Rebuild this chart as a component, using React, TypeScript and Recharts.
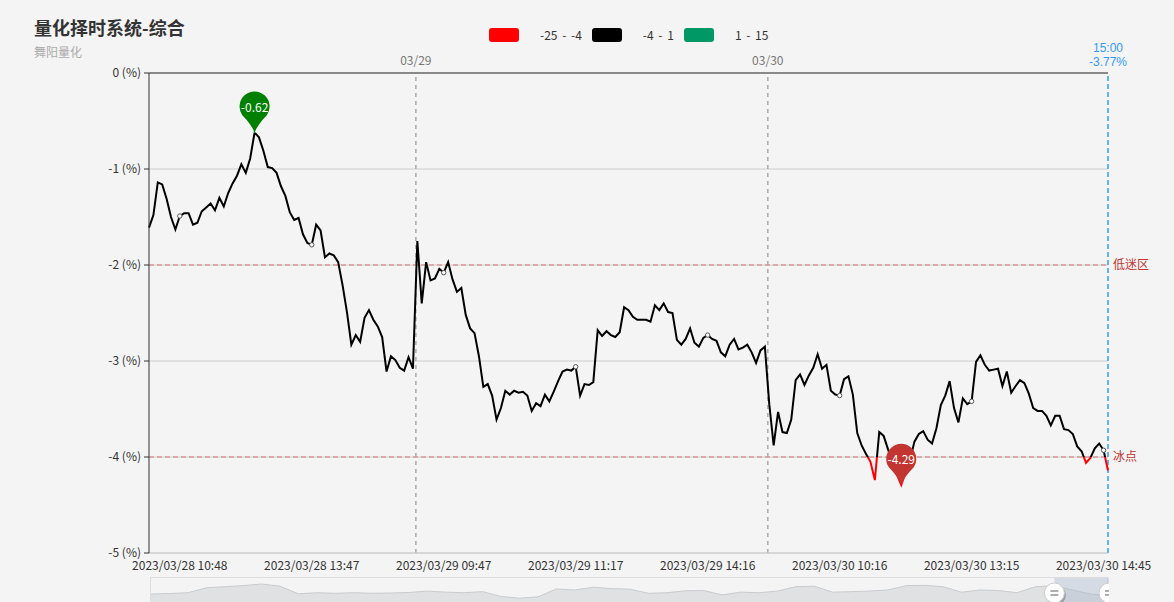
import {
  LineChart, Line, XAxis, YAxis, CartesianGrid, ReferenceLine, ReferenceDot,
  AreaChart, Area, ReferenceArea,
} from 'recharts'

// 综合择时值 (%), one sample every 3 trading minutes, 03/28 10:27 -> 03/30 15:00
const values = [
  -1.61, -1.48, -1.14, -1.16, -1.31, -1.50, -1.63, -1.49, -1.46, -1.46,
  -1.58, -1.56, -1.44, -1.40, -1.36, -1.43, -1.30, -1.39, -1.25, -1.15,
  -1.07, -0.95, -1.04, -0.89, -0.62, -0.67, -0.81, -0.98, -0.99, -1.04,
  -1.18, -1.28, -1.45, -1.53, -1.51, -1.68, -1.77, -1.79, -1.58, -1.64,
  -1.92, -1.88, -1.90, -1.97, -2.21, -2.49, -2.83, -2.73, -2.80, -2.55,
  -2.47, -2.57, -2.64, -2.75, -3.11, -2.95, -2.99, -3.07, -3.10, -2.96,
  -3.08, -1.75, -2.40, -1.97, -2.16, -2.14, -2.04, -2.08, -1.97, -2.15,
  -2.28, -2.24, -2.52, -2.66, -2.71, -2.95, -3.27, -3.24, -3.36, -3.61,
  -3.49, -3.31, -3.35, -3.31, -3.33, -3.32, -3.36, -3.52, -3.44, -3.47,
  -3.35, -3.42, -3.32, -3.21, -3.11, -3.09, -3.10, -3.06, -3.36, -3.24,
  -3.25, -3.22, -2.68, -2.74, -2.69, -2.73, -2.75, -2.70, -2.44, -2.47,
  -2.54, -2.57, -2.57, -2.57, -2.59, -2.42, -2.47, -2.40, -2.49, -2.50,
  -2.78, -2.83, -2.77, -2.66, -2.81, -2.85, -2.76, -2.73, -2.77, -2.79,
  -2.91, -2.95, -2.83, -2.77, -2.88, -2.86, -2.83, -2.91, -3.02, -2.89,
  -2.85, -3.45, -3.88, -3.53, -3.74, -3.75, -3.61, -3.20, -3.14, -3.25,
  -3.15, -3.07, -2.93, -3.08, -3.04, -3.31, -3.35, -3.36, -3.19, -3.16,
  -3.35, -3.75, -3.88, -3.97, -4.05, -4.24, -3.74, -3.78, -3.92, -4.05,
  -4.18, -4.29, -4.16, -4.03, -3.84, -3.76, -3.73, -3.82, -3.86, -3.70,
  -3.46, -3.36, -3.21, -3.49, -3.64, -3.39, -3.45, -3.42, -3.01, -2.94,
  -3.04, -3.10, -3.09, -3.08, -3.26, -3.11, -3.33, -3.26, -3.20, -3.23,
  -3.34, -3.49, -3.52, -3.52, -3.57, -3.67, -3.57, -3.57, -3.71, -3.72,
  -3.76, -3.89, -3.94, -4.06, -4.01, -3.91, -3.86, -3.93, -4.14,
]
const STEP = 3

const axisTicks = [21, 111, 201, 291, 381, 471, 561, 651]
const axisLabels = [
  '2023/03/28 10:48', '2023/03/28 13:47', '2023/03/29 09:47', '2023/03/29 11:17',
  '2023/03/29 14:16', '2023/03/30 10:16', '2023/03/30 13:15', '2023/03/30 14:45',
]
const dayBreaks = [182, 422]
const dayLabels = ['03/29', '03/30']
const topTicks = [66, 156, 246, 336, 426, 516, 606]
const yTicks = [0, -1, -2, -3, -4, -5]

const pieces = [
  { min: -25, max: -4, color: '#ff0000' },
  { min: -4, max: 1, color: '#000000' },
  { min: 1, max: 15, color: '#009966' },
]
const markLines = [
  { y: -2, label: '低迷区' },
  { y: -4, label: '冰点' },
]
const lastTime = '15:00'
const lastPct = -3.77

// dataZoom shadow (relative levels) and window in percent
const miniValues = [
  25, 27, 30, 48, 52, 56, 62, 54, 26, 30, 28, 30, 28, 29, 31, 36, 32, 30, 34, 16,
  10, 15, 44, 40, 50, 45, 43, 28, 30, 37, 38, 22, 32, 30, 36, 52, 54, 32, 34, 36,
  40, 56, 57, 52, 32, 40, 38, 30, 52, 56, 40, 25, 20,
]
const zoomStart = 94.3
const zoomEnd = 100

const data = values.map((v, k) => ({ i: k * STEP, v }))
const LAST = (values.length - 1) * STEP
const maxPt = data.reduce((a, b) => (b.v > a.v ? b : a))
const minPt = data.reduce((a, b) => (b.v < a.v ? b : a))
const miniData = miniValues.map((v, k) => ({ k, v }))

const off = (t: number) => Math.min(1, Math.max(0, (maxPt.v - t) / (maxPt.v - minPt.v)))

const FONT = "'Noto Sans CJK SC', 'Noto Sans', sans-serif"

function Pin({ cx, cy, color, text }: any) {
  const r = 15
  const d = 26
  const oy = cy - d
  const a = Math.acos(r / d)
  const tx = r * Math.sin(a)
  const ty = oy + r * Math.cos(a)
  const path = `M ${cx} ${cy} Q ${cx - 3} ${cy - 8} ${cx - tx} ${ty} A ${r} ${r} 0 1 1 ${cx + tx} ${ty} Q ${cx + 3} ${cy - 8} ${cx} ${cy} Z`
  return (
    <g>
      <path d={path} fill={color} />
      <text x={cx} y={oy} textAnchor="middle" dominantBaseline="central" fill="#fff" fontSize={12}>
        {text}
      </text>
    </g>
  )
}

function Handle({ x, y }: { x: number; y: number }) {
  return (
    <g>
      <circle cx={x + 1.5} cy={y + 2} r={10} fill="rgba(0,0,0,0.25)" />
      <circle cx={x} cy={y} r={10} fill="#fff" stroke="#ccc" />
      <line x1={x - 4} x2={x + 4} y1={y - 2} y2={y - 2} stroke="#777" strokeWidth={1.2} />
      <line x1={x - 4} x2={x + 4} y1={y + 2} y2={y + 2} stroke="#777" strokeWidth={1.2} />
    </g>
  )
}

export default function App() {
  const labelAt = new Map(axisTicks.map((t, n) => [t, axisLabels[n]]))
  const dotAt = new Set(axisTicks)
  const miniLast = miniValues.length - 1

  return (
    <div style={{ position: 'absolute', left: 0, top: 0, width: 1174, height: 602, overflow: 'hidden', background: '#f4f4f4', fontFamily: FONT }}>
      <div style={{ position: 'absolute', left: 34, top: 14, fontSize: 18, fontWeight: 'bold', color: '#333' }}>量化择时系统-综合</div>
      <div style={{ position: 'absolute', left: 34, top: 43, fontSize: 12, color: '#aaa' }}>舞阳量化</div>
      <div style={{ position: 'absolute', left: 489, top: 26, display: 'flex', alignItems: 'center', fontSize: 12, color: '#333', wordSpacing: 2 }}>
        {pieces.map((p) => (
          <div key={p.color} style={{ display: 'flex', alignItems: 'center' }}>
            <span style={{ width: 30, height: 14, borderRadius: 3, background: p.color, marginRight: 21 }} />
            <span style={{ marginRight: 10 }}>{`${p.min} - ${p.max}`}</span>
          </div>
        ))}
      </div>

      <LineChart width={1174} height={602} data={data} margin={{ top: 43, right: 66, bottom: 19, left: 89 }}
        style={{ position: 'absolute', left: 0, top: 0 }}>
        <defs>
          <linearGradient id="lineColor" x1="0" y1="0" x2="0" y2="1">
            <stop offset={0} stopColor={pieces[2].color} />
            <stop offset={off(pieces[2].min)} stopColor={pieces[2].color} />
            <stop offset={off(pieces[2].min)} stopColor={pieces[1].color} />
            <stop offset={off(pieces[1].min)} stopColor={pieces[1].color} />
            <stop offset={off(pieces[1].min)} stopColor={pieces[0].color} />
            <stop offset={1} stopColor={pieces[0].color} />
          </linearGradient>
        </defs>
        <CartesianGrid stroke="#ccc" vertical={false} />
        <XAxis dataKey="i" type="number" domain={[0, LAST]} ticks={axisTicks} interval={0}
          tickFormatter={(v: number) => labelAt.get(v) ?? ''} tickLine={false}
          axisLine={{ stroke: '#ccc' }} tick={{ fontSize: 12, fill: '#333' }} height={30} tickMargin={2} />
        <XAxis xAxisId="top" orientation="top" dataKey="i" type="number" domain={[0, LAST]} ticks={topTicks}
          interval={0} tick={false} tickSize={-5} axisLine={{ stroke: '#333' }} tickLine={{ stroke: '#333' }} height={30} />
        <YAxis type="number" domain={[-5, 0]} ticks={yTicks} interval={0} width={60}
          tickFormatter={(v: number) => `${v} (%)`} tick={{ fontSize: 12, fill: '#333' }}
          axisLine={{ stroke: '#333' }} tickLine={{ stroke: '#333' }} tickSize={5} tickMargin={3} />
        {markLines.map((m) => (
          <ReferenceLine key={m.y} y={m.y} stroke="#d67474" strokeDasharray="5 3"
            label={{ value: m.label, position: 'right', fill: '#c23531', fontSize: 12 }} />
        ))}
        {dayBreaks.map((d, n) => (
          <ReferenceLine key={d} x={d} stroke="#aaa" strokeWidth={1.5} strokeDasharray="4 4"
            label={{ value: dayLabels[n], position: 'top', fill: '#777', fontSize: 12, offset: 8 }} />
        ))}
        <ReferenceLine x={LAST} stroke="#3399ff" strokeWidth={1.5} strokeDasharray="5 3"
          label={(p: any) => {
            const vb = p.viewBox || {}
            return (
              <g fontFamily="'Liberation Sans', sans-serif">
                <text x={vb.x} y={vb.y - 21} textAnchor="middle" fill="#3399ff" fontSize={12}>{lastTime}</text>
                <text x={vb.x} y={vb.y - 7} textAnchor="middle" fill="#3399ff" fontSize={12}>{`${lastPct}%`}</text>
              </g>
            )
          }} />
        <Line dataKey="v" type="linear" stroke="url(#lineColor)" strokeWidth={2} isAnimationActive={false}
          dot={(p: any) => dotAt.has(p.payload.i)
            ? <circle key={p.index} cx={p.cx} cy={p.cy} r={2.2} fill="#fff" stroke="#555" strokeWidth={1} />
            : <g key={p.index} />}
          activeDot={false} />
        <ReferenceDot x={maxPt.i} y={maxPt.v} r={0}
          shape={(p: any) => <Pin cx={p.cx} cy={p.cy} color="#008000" text={maxPt.v.toFixed(2)} />} />
        <ReferenceDot x={minPt.i} y={minPt.v} r={0}
          shape={(p: any) => <Pin cx={p.cx} cy={p.cy} color="#c23531" text={minPt.v.toFixed(2)} />} />
      </LineChart>

      <div style={{ position: 'absolute', left: 150, top: 577, width: 958, height: 30, border: '1px solid #ddd', boxSizing: 'border-box' }}>
        <AreaChart width={958} height={30} data={miniData} margin={{ top: 0, right: 0, bottom: 0, left: 0 }}
          style={{ overflow: 'visible' }}>
          <XAxis dataKey="k" type="number" domain={[0, miniLast]} hide />
          <YAxis type="number" domain={[-26, 84]} hide />
          <Area dataKey="v" type="linear" stroke="#c9cbce" strokeWidth={1} fill="#e0e1e3" fillOpacity={1}
            baseValue={-26} isAnimationActive={false} dot={false} activeDot={false} />
          <ReferenceArea x1={(miniLast * zoomStart) / 100} x2={(miniLast * zoomEnd) / 100}
            fill="#a7b7cc" fillOpacity={0.4} stroke="none" ifOverflow="visible" />
          <ReferenceLine x={(miniLast * zoomStart) / 100} stroke="none" ifOverflow="visible"
            label={(p: any) => <Handle x={p.viewBox.x} y={15} />} />
          <ReferenceLine x={(miniLast * zoomEnd) / 100} stroke="none" ifOverflow="visible"
            label={(p: any) => <Handle x={p.viewBox.x} y={15} />} />
        </AreaChart>
      </div>
    </div>
  )
}
